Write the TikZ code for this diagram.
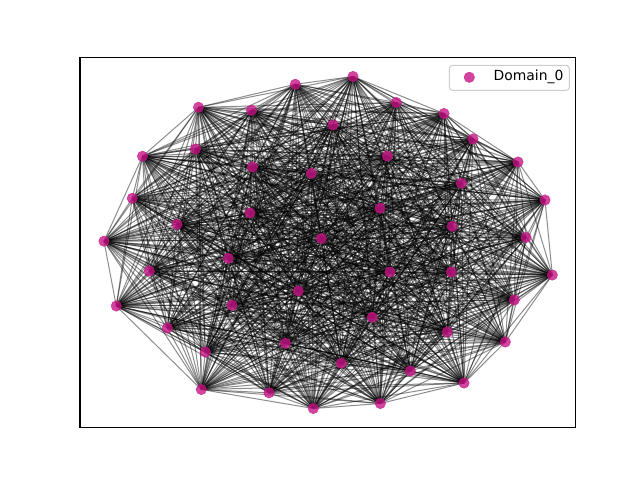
\documentclass[tikz,border=0pt]{standalone}
\usepackage{fontspec}
\setmainfont{DejaVu Sans}
\definecolor{nodecol}{RGB}{199,21,133}
\definecolor{legedge}{RGB}{204,204,204}
\begin{document}
\begin{tikzpicture}[x=1pt,y=1pt,
  edge/.style={draw=black,line width=1pt,opacity=0.45},
  dot/.style={circle,fill=nodecol,draw=nodecol,fill opacity=0.8,draw opacity=0.8,inner sep=0pt,minimum size=10.5pt},
  frame/.style={draw=black,line width=1.1pt},
  legbox/.style={draw=legedge,fill=white,fill opacity=0.8,rounded corners=3pt,line width=1pt}]
\useasboundingbox (0,0) rectangle (640,480);
\foreach \k/\x/\y in {
1/353/403.5, 2/295.3/395.7, 3/198.5/372.7, 4/251.5/369.7, 5/396.3/377.5,
6/444/366.5, 7/333/355, 8/473/341, 9/142.5/323.7, 10/195.5/331,
11/387.3/324, 12/252.5/313, 13/518/318, 14/311.3/306.7, 15/461.3/296.7,
16/132.3/281.7, 17/545/280, 18/250/267, 19/380/271.7, 20/177/255.7,
21/452.3/253.7, 22/104/238.8, 23/321.3/241.5, 24/526/242.5, 25/228.3/221.7,
26/149.3/209, 27/390/208, 28/451.3/208, 29/552.3/205, 30/298.3/189,
31/116.3/174, 32/514.3/180, 33/232/174.7, 34/372.3/162.7, 35/167.3/152,
36/447.3/148, 37/285.3/136.7, 38/505.3/138, 39/205.3/128, 40/341.3/116.7,
41/410.3/109, 42/464/97, 43/201.3/90.5, 44/269/87.2, 45/313.3/71.5,
46/380.3/76.5}
  \coordinate (p\k) at (\x,\y);
\foreach \i in {1,...,45} {
  \pgfmathtruncatemacro\s{\i+1}
  \foreach \j in {\s,...,46} {
    \draw[edge] (p\i) -- (p\j);
  }
}
\foreach \k in {1,...,46}
  \node[dot] (n\k) at (p\k) {};
\draw[frame] (80,52.8) rectangle (575.5,422.4);
\draw[legbox] (449.3,389.7) rectangle (569.3,414.7);
\node[dot] (legdot) at (469.3,402.7) {};
\node[anchor=west,inner sep=0pt,font=\fontsize{13.9}{16}\selectfont] (legtext) at (493.5,402.7) {Domain\_0};
\end{tikzpicture}
\end{document}
